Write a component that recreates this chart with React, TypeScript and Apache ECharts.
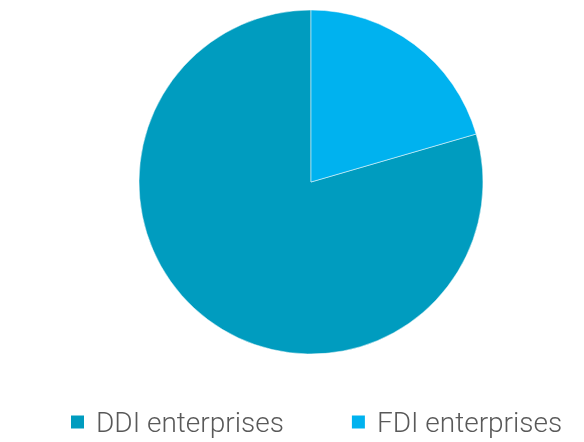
import React, { useEffect, useRef } from "react";
import * as echarts from "echarts";

const categories = ["DDI enterprises", "FDI enterprises"];
const values = [79.5, 20.5];
const colors = ["#009CBF", "#00B2EF"];

export default function App() {
  const ref = useRef<HTMLDivElement>(null);
  useEffect(() => {
    if (!ref.current) return;
    const chart = echarts.init(ref.current, undefined, { renderer: "svg" });
    chart.setOption({
      animation: false,
      legend: {
        data: categories,
        top: 407,
        left: 69,
        padding: 0,
        icon: "rect",
        itemWidth: 15,
        itemHeight: 15,
        itemGap: 66,
        textStyle: {
          fontSize: 28,
          lineHeight: 30,
          fontWeight: 300,
          color: "#595959",
          fontFamily: "Roboto",
          padding: [0, 0, 0, 6],
        },
      },
      series: [
        {
          type: "pie",
          center: [311, 182],
          radius: 172,
          startAngle: 90,
          clockwise: false,
          label: { show: false },
          labelLine: { show: false },
          itemStyle: { borderColor: "#ffffff", borderWidth: 0.5 },
          emphasis: { disabled: true },
          data: categories.map((c, i) => ({
            name: c,
            value: values[i],
            itemStyle: { color: colors[i] },
          })),
        },
      ],
    });
    return () => chart.dispose();
  }, []);
  return (
    <div
      ref={ref}
      style={{ position: "fixed", left: 0, top: 0, width: 584, height: 442 }}
    />
  );
}
